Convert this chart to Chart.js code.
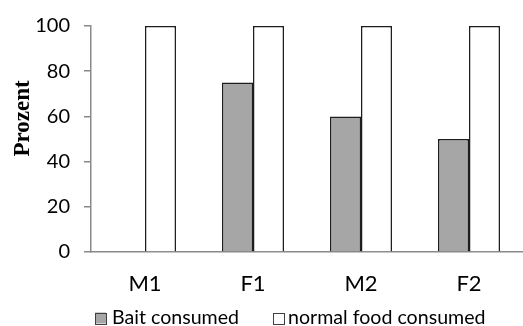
<!DOCTYPE html>
<html>
<head>
<meta charset="utf-8">
<script src="https://cdn.jsdelivr.net/npm/chart.js@4/dist/chart.umd.min.js"></script>
<style>
  html, body { margin: 0; padding: 0; background: #fff; }
  #wrap { width: 523px; height: 326px; }
</style>
</head>
<body>
<div id="wrap"><canvas id="c" width="523" height="326"></canvas></div>
<script>
const categories = ['M1', 'F1', 'M2', 'F2'];
const baitConsumed = [0, 75, 60, 50];
const normalFoodConsumed = [100, 100, 100, 100];
const seriesNames = ['Bait consumed', 'normal food consumed'];
const yTicks = [0, 20, 40, 60, 80, 100];
const yTitle = 'Prozent';

const axisColor = '#898989';
const edgeColor = '#1e1e1e';
const sans = 'Lato, "Open Sans", sans-serif';

// Rotated y-axis caption in bold serif, placed left of the tick labels
const yTitlePlugin = {
  id: 'yTitle',
  afterDraw(chart) {
    const ctx = chart.ctx;
    ctx.save();
    ctx.translate(29, 118.5);
    ctx.rotate(-Math.PI / 2);
    ctx.font = 'bold 23px "Liberation Serif", "Times New Roman", serif';
    ctx.fillStyle = '#000';
    ctx.textAlign = 'center';
    ctx.textBaseline = 'alphabetic';
    ctx.fillText(yTitle, 0, 0);
    ctx.restore();
  }
};

// Legend row under the category labels: small outlined swatch + series name
const legendRowPlugin = {
  id: 'legendRow',
  afterDraw(chart) {
    const ctx = chart.ctx;
    const slots = [{ box: 95, text: 112 }, { box: 273, text: 288 }];
    const cy = 318;
    const size = 11;
    ctx.save();
    ctx.font = '19.6px ' + sans;
    ctx.textBaseline = 'middle';
    ctx.textAlign = 'left';
    chart.data.datasets.forEach((ds, i) => {
      const s = slots[i];
      ctx.fillStyle = ds.backgroundColor;
      ctx.fillRect(s.box, cy - size / 2, size, size);
      ctx.strokeStyle = '#404040';
      ctx.lineWidth = 1;
      ctx.strokeRect(s.box + 0.5, Math.round(cy - size / 2) + 0.5, size, size);
      ctx.fillStyle = '#000';
      ctx.fillText(ds.label, s.text, cy);
    });
    ctx.restore();
  }
};

new Chart(document.getElementById('c'), {
  type: 'bar',
  data: {
    labels: categories,
    datasets: [
      {
        label: seriesNames[0],
        data: baitConsumed,
        backgroundColor: '#a6a6a6',
        borderColor: edgeColor,
        borderWidth: 1.5,
        borderSkipped: 'start'
      },
      {
        label: seriesNames[1],
        data: normalFoodConsumed,
        backgroundColor: '#ffffff',
        borderColor: edgeColor,
        borderWidth: 1.5,
        borderSkipped: 'start'
      }
    ]
  },
  options: {
    responsive: false,
    animation: false,
    devicePixelRatio: 1,
    layout: { padding: { top: 20, right: 0, left: 0, bottom: 27 } },
    datasets: {
      bar: { barPercentage: 1.0, categoryPercentage: 0.574 }
    },
    scales: {
      x: {
        afterFit(scale) { scale.height = 47; },
        grid: { display: false, drawTicks: false },
        border: { display: true, color: axisColor, width: 1.5 },
        ticks: { color: '#000', font: { family: sans, size: 22 }, padding: 19 }
      },
      y: {
        min: 0,
        max: 100,
        afterBuildTicks(scale) { scale.ticks = yTicks.map(v => ({ value: v })); },
        afterFit(scale) { scale.width = 91; },
        grid: { drawOnChartArea: false, drawTicks: true, tickLength: 7, color: axisColor, lineWidth: 1.5 },
        border: { display: true, color: axisColor, width: 1.5 },
        ticks: { color: '#000', font: { family: sans, size: 20 }, padding: 14 }
      }
    },
    plugins: {
      legend: { display: false },
      tooltip: { enabled: false }
    }
  },
  plugins: [yTitlePlugin, legendRowPlugin]
});
</script>
</body>
</html>
